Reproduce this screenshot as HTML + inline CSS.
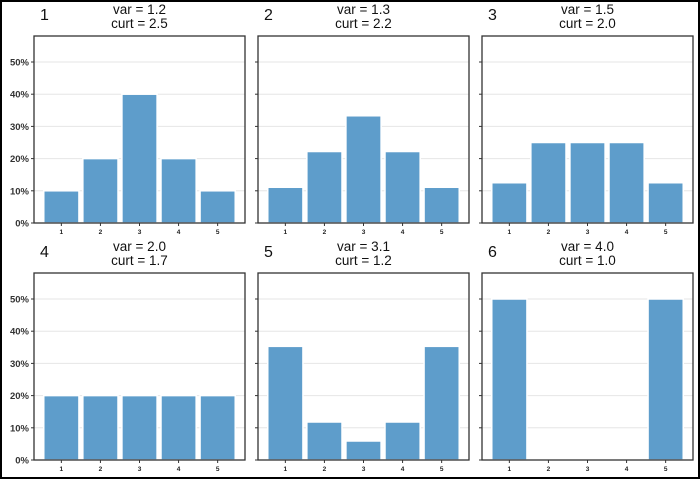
<!DOCTYPE html>
<html><head><meta charset="utf-8"><style>
body{margin:0;background:#fff;}
svg{display:block;font-family:"Liberation Sans","DejaVu Sans",sans-serif;}
</style></head><body>
<svg id="c" width="700" height="479">
<rect x="1" y="1" width="698" height="477" fill="#fff" stroke="#000" stroke-width="2"/>
</svg>
<script>
const categories=[1,2,3,4,5];
const yTicks=[0,10,20,30,40,50];
const panelIds=["1","2","3","4","5","6"];
const varLabels=["1.2","1.3","1.5","2.0","3.1","4.0"];
const curtLabels=["2.5","2.2","2.0","1.7","1.2","1.0"];
const s1=[10,20,40,20,10];
const s2=[11.1,22.2,33.3,22.2,11.1];
const s3=[12.5,25,25,25,12.5];
const s4=[20,20,20,20,20];
const s5=[35.3,11.8,5.9,11.8,35.3];
const s6=[50,0,0,0,50];
const series=[s1,s2,s3,s4,s5,s6];

const svg=document.getElementById('c');
const NS='http://www.w3.org/2000/svg';
function mk(t,a,p){const e=document.createElementNS(NS,t);for(const k in a)e.setAttribute(k,a[k]);(p||svg).appendChild(e);return e;}
const lefts=[34,258,482], tops=[36,273], W=211, H=187;
for(let i=0;i<6;i++){
  const col=i%3,row=Math.floor(i/3);
  const L=lefts[col],T=tops[row],B=T+H;
  const g=mk('g',{});
  
  
  const y=v=>B-v*3.22;
  const x=c=>L+(c-0.3)*(W/5.4);
  const bw=0.9*W/5.4;
  yTicks.forEach(t=>{
    if(t>0){const gl=mk('line',{x1:L,x2:L+W,y1:y(t),y2:y(t),stroke:'#e6e6e6','stroke-width':1},g);
    }
    mk('line',{x1:L-3,x2:L,y1:y(t),y2:y(t),stroke:'#333'},g);
    if(col===0){const tl=mk('text',{x:L-5,y:y(t)+3.5,'text-anchor':'end','font-size':9.5,'font-weight':'bold',fill:'#333'},g);
    tl.textContent=t+'%';}
  });
  series[i].forEach((v,j)=>{
    const c=categories[j];
    if(v>0){const r=mk('rect',{x:x(c)-bw/2,y:y(v),width:bw,height:v*3.22,fill:'#5e9dcb',stroke:'#fff','stroke-width':1.5},g);
    }
    mk('line',{x1:x(c),x2:x(c),y1:B,y2:B+3,stroke:'#333'},g);
    const xl=mk('text',{x:x(c),y:B+11,'text-anchor':'middle','font-size':6.5,'font-weight':'bold',fill:'#222'},g);
    xl.textContent=c;
  });
  const fr=mk('rect',{x:L,y:T,width:W,height:H,fill:'none',stroke:'#333','stroke-width':1.3},g);
  
  const n=mk('text',{x:L+6,y:T-16,'font-size':16,fill:'#111'},g);
  n.textContent=panelIds[i];
  const t1=mk('text',{x:L+W/2,y:T-22,'text-anchor':'middle','font-size':13.5,fill:'#111'},g);
  t1.textContent='var = '+varLabels[i];
  const t2=mk('text',{x:L+W/2,y:T-8,'text-anchor':'middle','font-size':13.5,fill:'#111'},g);
  t2.textContent='curt = '+curtLabels[i];
}
</script>
</body></html>
